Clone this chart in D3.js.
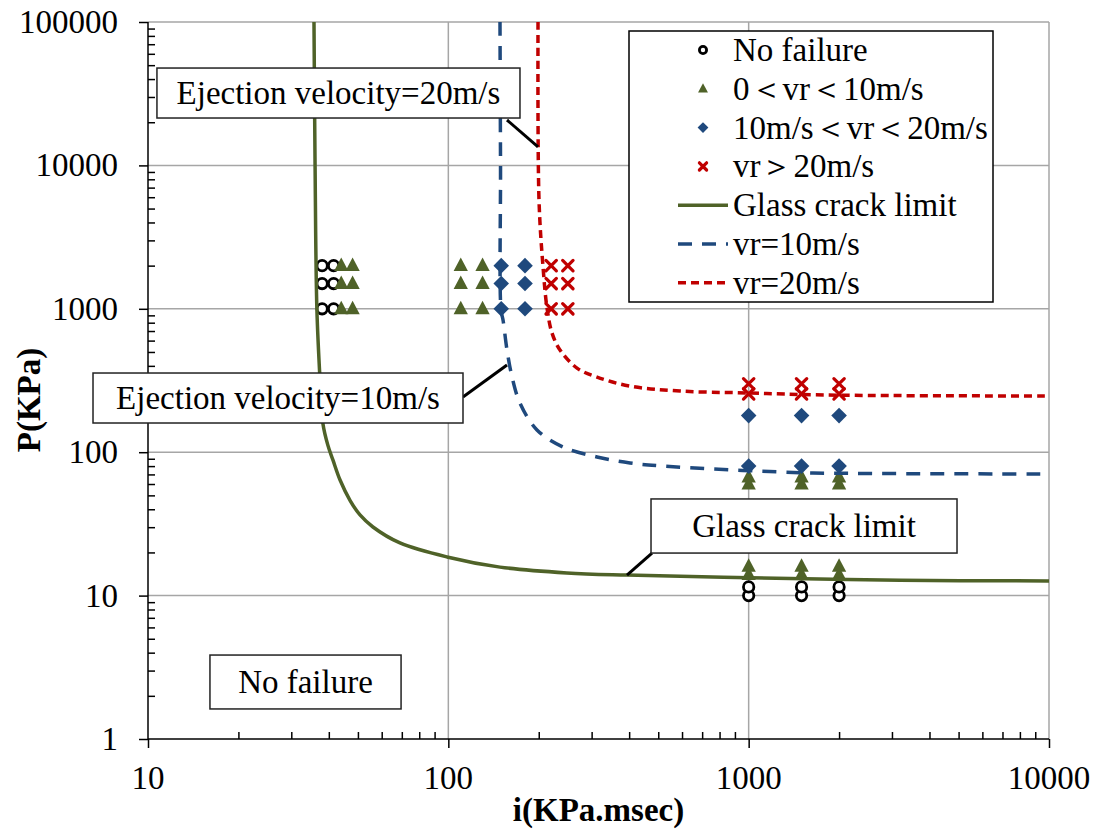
<!DOCTYPE html>
<html>
<head>
<meta charset="utf-8">
<script src="https://cdn.jsdelivr.net/npm/d3@7"></script>
<style>
  html, body { margin: 0; padding: 0; background: #fff; }
  svg { display: block; }
  svg text { font-family: "Liberation Serif", "Times New Roman", Times, "DejaVu Serif", serif; }
</style>
</head>
<body>
<svg id="chart" width="1099" height="832"></svg>
<script>
// axis ticks
const xMajor = [10, 100, 1000, 10000];
const yMajor = [1, 10, 100, 1000, 10000, 100000];

// scatter series, [i, P]
const noFailure = [
  [38, 1000], [38, 1500], [38, 2000], [41.5, 1000], [41.5, 1500], [41.5, 2000],
  [1000, 10], [1000, 11.5], [1500, 10], [1500, 11.5], [2000, 10], [2000, 11.5]
];
const vrBelow10 = [
  [44, 1000], [44, 1500], [44, 2000], [48, 1000], [48, 1500], [48, 2000],
  [110, 1000], [110, 1500], [110, 2000], [130, 1000], [130, 1500], [130, 2000],
  [1000, 14], [1000, 16], [1500, 14], [1500, 16], [2000, 14], [2000, 16],
  [1000, 60], [1000, 67], [1500, 60], [1500, 67], [2000, 60], [2000, 67]
];
const vr10to20 = [
  [150, 1000], [150, 1500], [150, 2000], [180, 1000], [180, 1500], [180, 2000],
  [1000, 80], [1000, 180], [1500, 80], [1500, 180], [2000, 80], [2000, 180]
];
const vrAbove20 = [
  [220, 1000], [220, 1500], [220, 2000], [250, 1000], [250, 1500], [250, 2000],
  [1000, 255], [1000, 300], [1500, 255], [1500, 300], [2000, 255], [2000, 300]
];

// limit curves, [i, P]
const glassCrack = [
  [35.7, 100000], [36.0, 10000], [36.5, 1000], [37.4, 319], [38.2, 160], [39.7, 112],
  [41.3, 88], [43.6, 64], [47.1, 46], [50.8, 36.5], [56.1, 30.1], [69, 23.3],
  [99, 18.6], [148.6, 15.8], [248, 14.4], [393, 13.9], [1010, 13.3], [3192, 12.8], [10000, 12.65]
];
const vr10Curve = [
  [148.6, 100000], [149.2, 10000], [149.8, 981], [152.1, 835], [156.8, 516], [163, 334],
  [173.2, 220], [197.3, 143], [240.9, 108.7], [312.6, 92.6], [402.6, 84.1],
  [518.6, 80.1], [761, 76.3], [1272, 72.8], [1637, 71.6], [10000, 70.5]
];
const vr20Curve = [
  [198.9, 100000], [200.4, 5737], [206.7, 1956], [213.1, 1013], [221.4, 678],
  [235.4, 516], [268.2, 386], [312.6, 334], [402.6, 289], [590.6, 267],
  [987.4, 259], [1824, 250.5], [10000, 246.6]
];

const legendLabels = ['No failure', '0＜vr＜10m/s', '10m/s＜vr＜20m/s', 'vr＞20m/s',
  'Glass crack limit', 'vr=10m/s', 'vr=20m/s'];

// callouts in data coords: box corners [i, P], leader from -> to
const callouts = [
  { text: 'Ejection velocity=20m/s', box: [[10.71, 47750], [173.2, 21400]], from: [156.8, 20730], to: [198.9, 13440] },
  { text: 'Ejection velocity=10m/s', box: [[6.56, 356.6], [111.9, 159.8]], from: [111.9, 242.7], to: [156.8, 405.6] },
  { text: 'Glass crack limit', box: [[473, 47.2], [4940, 19.8]], from: [476.6, 19.8], to: [393.4, 13.9] },
  { text: 'No failure', box: [[16.08, 3.85], [69.6, 1.62]] }
];

const GREEN = '#4f6228', BLUE = '#1f497d', RED = '#c00000';
const FS = 33;

const svg = d3.select('#chart');
const margin = { left: 148, right: 1049, top: 22, bottom: 739 };

const x = d3.scaleLog().domain([10, 10000]).range([margin.left, margin.right]);
const y = d3.scaleLog().domain([1, 100000]).range([margin.bottom, margin.top]);

const minorOf = (majors) => {
  const out = [];
  for (let k = 0; k < majors.length - 1; k++) {
    for (let m = 2; m <= 9; m++) out.push(majors[k] * m);
  }
  return out;
};

// grid
const grid = svg.append('g').attr('class', 'grid');
grid.selectAll('.gx').data(xMajor.slice(1)).enter().append('line')
  .attr('x1', d => x(d)).attr('x2', d => x(d))
  .attr('y1', margin.top).attr('y2', margin.bottom)
  .attr('stroke', '#a6a6a6').attr('stroke-width', 1.5);
grid.selectAll('.gy').data(yMajor.slice(1)).enter().append('line')
  .attr('y1', d => y(d)).attr('y2', d => y(d))
  .attr('x1', margin.left).attr('x2', margin.right)
  .attr('stroke', '#a6a6a6').attr('stroke-width', 1.5);

// axes
const styleAxis = g => {
  g.select('.domain').remove();
  g.selectAll('line').attr('stroke', '#000').attr('stroke-width', 1.5);
};
svg.append('g').attr('transform', `translate(${margin.left},0)`)
  .call(d3.axisLeft(y).tickValues(yMajor).tickSize(9).tickFormat(''))
  .call(styleAxis);
svg.append('g').attr('transform', `translate(${margin.left},0)`)
  .call(d3.axisLeft(y).tickValues(minorOf(yMajor)).tickSize(-7).tickFormat(''))
  .call(styleAxis);
svg.append('g').attr('transform', `translate(0,${margin.bottom})`)
  .call(d3.axisBottom(x).tickValues(xMajor).tickSize(9).tickFormat(''))
  .call(styleAxis);
svg.append('g').attr('transform', `translate(0,${margin.bottom})`)
  .call(d3.axisBottom(x).tickValues(minorOf(xMajor)).tickSize(-7).tickFormat(''))
  .call(styleAxis);
svg.append('line').attr('x1', margin.left).attr('x2', margin.left)
  .attr('y1', margin.top).attr('y2', margin.bottom).attr('stroke', '#000').attr('stroke-width', 1.5);
svg.append('line').attr('x1', margin.left).attr('x2', margin.right)
  .attr('y1', margin.bottom).attr('y2', margin.bottom).attr('stroke', '#000').attr('stroke-width', 1.5);

// tick labels
svg.append('g').selectAll('text').data(yMajor).enter().append('text')
  .attr('x', 118).attr('y', d => y(d) + 11)
  .attr('text-anchor', 'end').attr('font-size', FS)
  .text(d => d);
svg.append('g').selectAll('text').data(xMajor).enter().append('text')
  .attr('x', d => x(d)).attr('y', 789)
  .attr('text-anchor', 'middle').attr('font-size', FS)
  .text(d => d);

// axis titles
svg.append('text').attr('x', (margin.left + margin.right) / 2).attr('y', 821)
  .attr('text-anchor', 'middle').attr('font-size', FS)
  .attr('font-weight', 'bold').text('i(KPa.msec)');
svg.append('text').attr('transform', 'translate(40,400) rotate(-90)')
  .attr('text-anchor', 'middle').attr('font-size', FS)
  .attr('font-weight', 'bold').text('P(KPa)');

// marker shapes
function drawMarker(g, kind, s) {
  if (kind === 'circle') {
    g.append('circle').attr('r', s * 0.4).attr('fill', '#fff')
      .attr('stroke', '#000').attr('stroke-width', 2.8);
  } else if (kind === 'triangle') {
    g.append('path').attr('d', `M0,${-s * 0.62}L${s * 0.55},${s * 0.42}L${-s * 0.55},${s * 0.42}Z`)
      .attr('fill', GREEN);
  } else if (kind === 'diamond') {
    g.append('path').attr('d', `M0,${-s * 0.6}L${s * 0.6},0L0,${s * 0.6}L${-s * 0.6},0Z`)
      .attr('fill', BLUE);
  } else {
    const h = s * 0.4;
    g.append('path').attr('d', `M${-h},${-h}L${h},${h}M${h},${-h}L${-h},${h}`)
      .attr('fill', 'none').attr('stroke', RED).attr('stroke-width', 3.2).attr('stroke-linecap', 'round');
  }
}

const scatterSeries = [
  { data: noFailure, kind: 'circle' },
  { data: vrBelow10, kind: 'triangle' },
  { data: vr10to20, kind: 'diamond' },
  { data: vrAbove20, kind: 'cross' }
];

const pts = svg.append('g').attr('class', 'points');
scatterSeries.forEach(s => {
  s.data.forEach(d => {
    const g = pts.append('g').attr('transform', `translate(${x(d[0])},${y(d[1])})`);
    drawMarker(g, s.kind, 13);
  });
});

// curves
const line = d3.line().x(d => x(d[0])).y(d => y(d[1])).curve(d3.curveCatmullRom.alpha(0.5));
const curveSeries = [
  { data: glassCrack, color: GREEN, dash: null },
  { data: vr10Curve, color: BLUE, dash: '14,10' },
  { data: vr20Curve, color: RED, dash: '8,5' }
];
curveSeries.forEach(c => {
  svg.append('path').datum(c.data).attr('d', line)
    .attr('fill', 'none').attr('stroke', c.color).attr('stroke-width', 3.5)
    .attr('stroke-dasharray', c.dash);
});

// callouts
callouts.forEach(c => {
  const bx = x(c.box[0][0]), by = y(c.box[0][1]);
  const bw = x(c.box[1][0]) - bx, bh = y(c.box[1][1]) - by;
  if (c.from) {
    svg.append('line')
      .attr('x1', x(c.from[0])).attr('y1', y(c.from[1]))
      .attr('x2', x(c.to[0])).attr('y2', y(c.to[1]))
      .attr('stroke', '#000').attr('stroke-width', 3);
  }
  svg.append('rect').attr('x', bx).attr('y', by).attr('width', bw).attr('height', bh)
    .attr('fill', '#fff').attr('stroke', '#222').attr('stroke-width', 1.5);
  svg.append('text').attr('x', bx + bw / 2).attr('y', by + bh / 2 + 11)
    .attr('text-anchor', 'middle').attr('font-size', FS)
    .text(c.text);
});

// legend
const legend = svg.append('g').attr('class', 'legend');
legend.append('rect').attr('x', 629).attr('y', 31).attr('width', 364).attr('height', 271)
  .attr('fill', '#fff').attr('stroke', '#000').attr('stroke-width', 1.5);
const legendKinds = ['circle', 'triangle', 'diamond', 'cross'];
legendLabels.forEach((lab, k) => {
  const cy = 50 + k * 38.8;
  if (k < 4) {
    const g = legend.append('g').attr('transform', `translate(703,${cy})`);
    drawMarker(g, legendKinds[k], 9);
  } else {
    const c = curveSeries[k - 4];
    legend.append('line').attr('x1', 678).attr('x2', 728).attr('y1', cy).attr('y2', cy)
      .attr('stroke', c.color).attr('stroke-width', 3.5).attr('stroke-dasharray', c.dash);
  }
  legend.append('text').attr('x', 733).attr('y', cy + 11)
    .attr('font-size', FS).text(lab);
});
</script>
</body>
</html>
